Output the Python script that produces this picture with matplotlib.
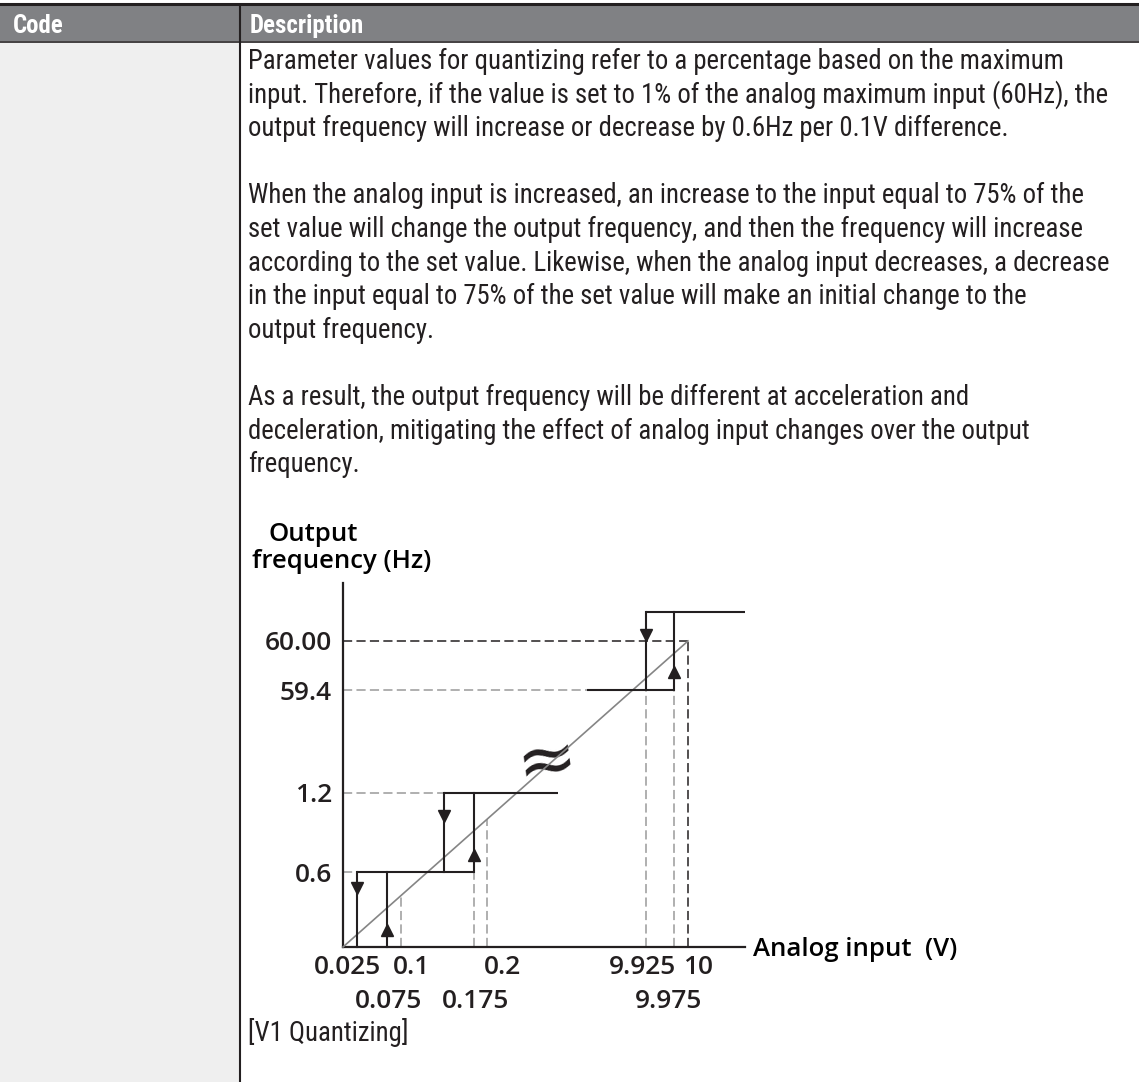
import numpy as np
import matplotlib
matplotlib.use("Agg")
import matplotlib.pyplot as plt
from matplotlib import font_manager as fm
from matplotlib.transforms import ScaledTranslation

W, H, DPI = 1139, 1082, 100

# ------------------------------------------------------------------ data
header_labels = ["Code", "Description"]
paragraphs = [
    ["Parameter values for quantizing refer to a percentage based on the maximum",
     "input. Therefore, if the value is set to 1% of the analog maximum input (60Hz), the",
     "output frequency will increase or decrease by 0.6Hz per 0.1V difference."],
    ["When the analog input is increased, an increase to the input equal to 75% of the",
     "set value will change the output frequency, and then the frequency will increase",
     "according to the set value. Likewise, when the analog input decreases, a decrease",
     "in the input equal to 75% of the set value will make an initial change to the",
     "output frequency."],
    ["As a result, the output frequency will be different at acceleration and",
     "deceleration, mitigating the effect of analog input changes over the output",
     "frequency."],
]
caption = "[V1 Quantizing]"
y_title = ["Output", "frequency (Hz)"]
x_title = "Analog input  (V)"

# reference (ideal) line: 0 V -> 0 Hz, 10 V -> 60 Hz
ref_x = [0.0, 10.0]
ref_y = [0.0, 60.0]

# falling transitions (down arrows)
down_x = [0.025, 0.125, 9.925]
down_lo = [0.0, 0.6, 59.4]
down_hi = [0.6, 1.2, 60.6]
# rising transitions (up arrows)
up_x = [0.075, 0.175, 9.975]
up_lo = [0.0, 0.6, 59.4]
up_hi = [0.6, 1.2, 60.6]
# output levels (horizontal plateaus)
level_y = [0.6, 1.2, 59.4, 60.6]
level_x0 = [0.025, 0.125, 9.85, 9.925]
level_x1 = [0.175, 0.25, 9.975, 10.1]

# dashed guides
hguide_y = [0.6, 1.2, 59.4, 60.0]
hguide_x1 = [0.025, 0.125, 9.85, 10.0]
hguide_dark = [False, False, False, True]
vguide_x = [0.1, 0.175, 0.2, 9.925, 9.975, 10.0]
vguide_top = [None, 0.6, None, 59.4, 59.4, 60.0]   # None -> up to reference line
vguide_dark = [False, False, False, False, False, True]

ytick_vals = [0.6, 1.2, 59.4, 60.0]
ytick_labels = ["0.6", "1.2", "59.4", "60.00"]
xtick_row1 = [0.025, 0.1, 0.2, 9.925, 10.0]
xtick_row1_labels = ["0.025", "0.1", "0.2", "9.925", "10"]
xtick_row2 = [0.075, 0.175, 9.975]
xtick_row2_labels = ["0.075", "0.175", "9.975"]

# ------------------------------------------------------------------ layout (schematic, broken axes)
XV = [0, 0.025, 0.075, 0.1, 0.125, 0.175, 0.2, 0.25, 9.85, 9.925, 9.975, 10.0, 10.1]
XP = [343, 357, 387, 401, 444, 474, 487, 558, 587, 646, 674, 688, 745]
YV = [0, 0.6, 1.2, 59.4, 60.0, 60.6, 61.2]
YP = [947, 872, 793, 690, 641, 612, 583]
YU = [947 - p for p in YP]


def available(c):
    try:
        fm.findfont(fm.FontProperties(family=c), fallback_to_default=False)
        return True
    except Exception:
        return False


def has_bold(c):
    try:
        r = fm.findfont(fm.FontProperties(family=c), fallback_to_default=False)
        b = fm.findfont(fm.FontProperties(family=c, weight="bold"), fallback_to_default=False)
        return r != b
    except Exception:
        return False


def pick(cands, need_bold=False):
    for c in cands:
        if available(c) and (not need_bold or has_bold(c)):
            return c
    return "DejaVu Sans"


FAM = pick(["Roboto Condensed", "Liberation Sans Narrow", "Lato", "Roboto"])
HFAM = pick(["Roboto Condensed", "Liberation Sans Narrow", "Roboto", "Open Sans"], need_bold=True)
DFAM = pick(["Open Sans", "Noto Sans", "Lato", "Roboto", "Liberation Sans"], need_bold=True)
plt.rcParams["font.family"] = [FAM, "DejaVu Sans"]

fig = plt.figure(figsize=(W / DPI, H / DPI), dpi=DPI)
renderer = fig.canvas.get_renderer()

page = fig.add_axes([0, 0, 1, 1], zorder=0)
page.set_xlim(0, W)
page.set_ylim(H, 0)
page.axis("off")


def fit(text, target_px, base=18, **kw):
    t = page.text(0, 0, text, fontsize=base, **kw)
    w = t.get_window_extent(renderer).width
    t.remove()
    return base * target_px / w


# table
page.add_patch(plt.Rectangle((0, 43), 240, H - 43, color="#efefef", lw=0))
page.add_patch(plt.Rectangle((0, 5), W, 36, color="#808184", lw=0))
page.plot([0, W], [4, 4], color="#231f20", lw=2.2)
page.plot([0, W], [42, 42], color="#231f20", lw=1.2)
page.plot([240, 240], [5, H], color="#231f20", lw=1.5)

HW = "bold"
hs = fit("Description", 114, weight=HW, family=[HFAM])
page.text(13, 33, header_labels[0], color="white", fontsize=hs, weight=HW, va="baseline", family=[HFAM])
page.text(250, 33, header_labels[1], color="white", fontsize=hs, weight=HW, va="baseline", family=[HFAM])

bs = fit(paragraphs[0][1], 860)
line_h = 33.6
yb = 69
for para in paragraphs:
    for ln in para:
        page.text(248, yb, ln, fontsize=bs, color="#231f20", va="baseline")
        yb += line_h
    yb += line_h

page.text(248, 1041, caption, fontsize=bs, color="#231f20", va="baseline")

DW = "semibold"
ds = fit(x_title, 204, weight=DW, family=[DFAM])
page.text(753, 946, x_title, fontsize=ds, weight=DW, va="center_baseline", family=[DFAM])
page.text(268, 541, y_title[0], fontsize=ds, weight=DW, va="baseline", family=[DFAM])
page.text(252, 568, y_title[1], fontsize=ds, weight=DW, va="baseline", family=[DFAM])

# ------------------------------------------------------------------ diagram axes
ax = fig.add_axes([343 / W, (H - 947) / H, (745 - 343) / W, (947 - 583) / H], zorder=2)
ax.set_facecolor("none")
ax.set_xscale("function", functions=(lambda v: np.interp(v, XV, XP), lambda p: np.interp(p, XP, XV)))
ax.set_yscale("function", functions=(lambda v: np.interp(v, YV, YU), lambda p: np.interp(p, YU, YV)))
ax.set_xlim(0, 10.1)
ax.set_ylim(0, 61.2)
for s in ["top", "right"]:
    ax.spines[s].set_visible(False)
for s in ["left", "bottom"]:
    ax.spines[s].set_linewidth(1.6)
    ax.spines[s].set_color("#231f20")

LW = 1.5
GRAY = "#9a9a9a"
DARK = "#231f20"
dash = (0, (6, 2.8))

# reference line
ax.plot(ref_x, ref_y, color="#858585", lw=1.2, zorder=3, clip_on=False)


def ref_at(x):
    p0 = ax.transData.transform((ref_x[0], ref_y[0]))
    p1 = ax.transData.transform((ref_x[1], ref_y[1]))
    px = ax.transData.transform((x, 0))[0]
    py = p0[1] + (p1[1] - p0[1]) * (px - p0[0]) / (p1[0] - p0[0])
    return ax.transData.inverted().transform((px, py))[1]


for y, x1, dk in zip(hguide_y, hguide_x1, hguide_dark):
    ax.plot([0, x1], [y, y], color=DARK if dk else GRAY, lw=1.1, linestyle=dash, clip_on=False, zorder=2)
for x, top, dk in zip(vguide_x, vguide_top, vguide_dark):
    yt = ref_at(x) if top is None else top
    ax.plot([x, x], [0, yt], color=DARK if dk else GRAY, lw=1.1, linestyle=dash, clip_on=False, zorder=2)

for y, x0, x1 in zip(level_y, level_x0, level_x1):
    ax.plot([x0, x1], [y, y], color=DARK, lw=LW, clip_on=False, zorder=4, solid_capstyle="butt")


def frac_y(lo, hi, f):
    a = ax.transData.transform((0, lo))[1]
    b = ax.transData.transform((0, hi))[1]
    return ax.transData.inverted().transform((0, a + (b - a) * f))[1]


down_frac = [0.79, 0.71, 0.71]
up_frac = [0.23, 0.22, 0.23]
for x, lo, hi, f in zip(down_x, down_lo, down_hi, down_frac):
    ax.plot([x, x], [lo, hi], color=DARK, lw=LW, clip_on=False, zorder=4)
    ax.plot([x], [frac_y(lo, hi, f)], marker="v", ms=8.5, color=DARK, clip_on=False, zorder=5)
for x, lo, hi, f in zip(up_x, up_lo, up_hi, up_frac):
    ax.plot([x, x], [lo, hi], color=DARK, lw=LW, clip_on=False, zorder=4)
    ax.plot([x], [frac_y(lo, hi, f)], marker="^", ms=8.5, color=DARK, clip_on=False, zorder=5)

# ticks
ax.set_yticks(ytick_vals)
ax.set_yticklabels(ytick_labels)
ax.tick_params(axis="y", length=0, pad=8, labelsize=ds * 1.02, labelcolor=DARK)
for lab in ax.get_yticklabels():
    lab.set_fontweight(DW)
    lab.set_family([DFAM])

ax.set_xticks(xtick_row1)
ax.set_xticklabels(xtick_row1_labels)
ax.set_xticks(xtick_row2, minor=True)
ax.set_xticklabels(xtick_row2_labels, minor=True)
ax.tick_params(axis="x", which="both", length=0, labelsize=ds * 1.02, labelcolor=DARK)
ax.tick_params(axis="x", which="major", pad=6)
ax.tick_params(axis="x", which="minor", pad=30)
row1_dx = [-10, 10, 15, -4, 10]
row2_dx = [1, 1, -6]
for lab, dx in zip(ax.get_xticklabels(), row1_dx):
    lab.set_fontweight(DW)
    lab.set_family([DFAM])
    lab.set_transform(lab.get_transform() + ScaledTranslation(dx / DPI, 0, fig.dpi_scale_trans))
for lab, dx in zip(ax.get_xticklabels(minor=True), row2_dx):
    lab.set_fontweight(DW)
    lab.set_family([DFAM])
    lab.set_transform(lab.get_transform() + ScaledTranslation(dx / DPI, 0, fig.dpi_scale_trans))

# break mark on the reference line
page.text(547, 763, "\u2248", fontsize=52, ha="center", va="center", rotation=8,
          family="DejaVu Sans", color=DARK, zorder=1)

fig.savefig("out.png", dpi=DPI)
